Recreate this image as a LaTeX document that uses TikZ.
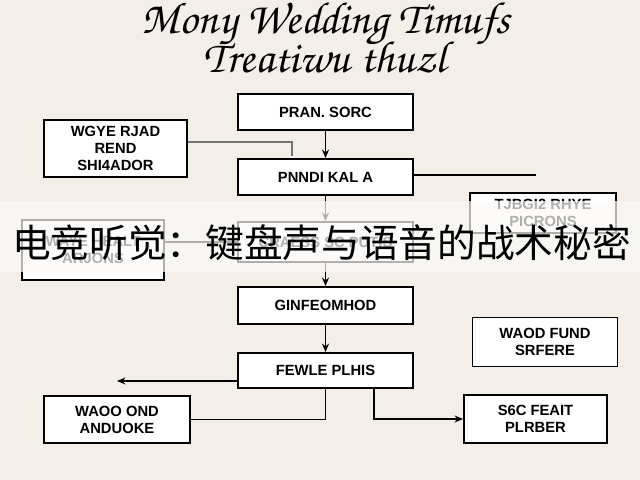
\documentclass[tikz,border=0pt]{standalone}
\usepackage[T1]{fontenc}
\usepackage{fontspec}
\setmainfont{Liberation Sans}
\newfontfamily\cjk{Noto Sans CJK SC}
\usetikzlibrary{arrows.meta}
\definecolor{paper}{HTML}{F3EFE8}
\definecolor{band}{HTML}{FBFAF8}
\newcommand{\px}{0.025cm}
\newcommand{\titlefont}{\fontencoding{T1}\fontfamily{pzc}\fontseries{mb}\fontshape{it}\fontsize{32}{32}\selectfont}
\tikzset{
  stepbox/.style={draw=black, line width=1.4pt, fill=white, align=center, inner sep=1pt,
    font=\bfseries\fontsize{10.5}{12}\selectfont},
  flow/.style={line width=0.9pt, -{Stealth[length=6pt,width=5pt]}},
  link/.style={line width=0.9pt}
}
\begin{document}
\begin{tikzpicture}[x=0.025cm,y=-0.025cm]
      \fill[paper] (0,0) rectangle (640,480);
      \useasboundingbox (0,0) rectangle (640,480);
      % title
      \node[font=\titlefont] (title1) at (326,24) {Mony Wedding Timufs};
      \node[font=\titlefont] (title2) at (325,57) {Treatiwu thuzl};
      % middle column
      \node[stepbox, minimum width=175*\px, minimum height=36*\px] (src) at (325.5,112) {PRAN. SORC};
      \node[stepbox, minimum width=175*\px, minimum height=36*\px] (mid2) at (325.5,177) {PNNDI KAL A};
      \node[stepbox, minimum width=175*\px, minimum height=40*\px] (mid4) at (325.5,242) {CRAESS SC PUTIS};
      \node[stepbox, minimum width=175*\px, minimum height=37*\px] (mid5) at (325.5,305.5) {GINFEOMHOD};
      \node[stepbox, minimum width=175*\px, minimum height=35*\px] (mid6) at (325.5,370.5) {FEWLE PLHIS};
      % side boxes
      \node[stepbox, minimum width=143*\px, minimum height=57*\px] (left1) at (115.5,148.5) {WGYE RJAD\\REND\\SHI4ADOR};
      \node[stepbox, minimum width=142*\px, minimum height=60*\px] (left3) at (93,250) {WAYE HEALT\\ARJONS};
      \node[stepbox, minimum width=146*\px, minimum height=40*\px] (right3) at (543,213) {TJBGI2 RHYE\\PICRONS};
      \node[stepbox, minimum width=145*\px, minimum height=49*\px] (right9) at (545,342) {WAOD FUND\\SRFERE};
      \node[stepbox, minimum width=146*\px, minimum height=47*\px] (left7) at (117,419.5) {WAOO OND\\ANDUOKE};
      \node[stepbox, minimum width=143*\px, minimum height=48*\px] (right8) at (535.5,419) {S6C FEAIT\\PLRBER};
      % free ends
      \coordinate (m2end) at (536,175);
      \coordinate (m6tip) at (117,381);
      % connectors
      \draw[flow] (src) -- (mid2);
      \draw[flow] (mid2) -- (mid4);
      \draw[flow] (mid4) -- (mid5);
      \draw[flow] (mid5) -- (mid6);
      \draw[link, color=black!55] ([yshift=0.16cm]left1.east) -| ([xshift=-0.84cm, yshift=0.05cm]mid2.north); % left1--mid2
      \draw[link] (mid2.east |- m2end) -- (m2end);
      \draw[link] (left3.east |- mid4.west) -- (mid4.west);
      \draw[flow] (mid6.west |- m6tip) -- (m6tip);
      \draw[link] (left7.east) -| (mid6.south);
      \draw[flow] ([xshift=1.21cm]mid6.south) |- (right8.west);
      % banner
      \fill[band, opacity=0.7] (0,201) rectangle (640,272);
      \node[font=\cjk\fontsize{27.5}{30}\selectfont] (banner) at (321.5,243) {电竞听觉：键盘声与语音的战术秘密};
    \end{tikzpicture}
\end{document}
